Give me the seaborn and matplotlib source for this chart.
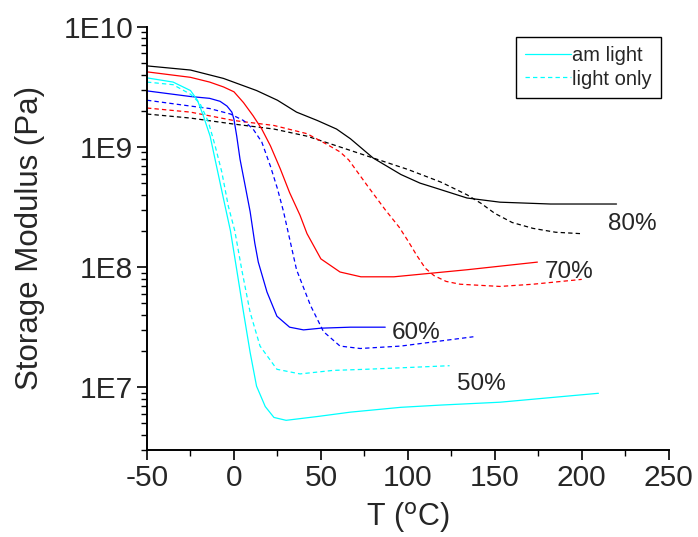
import numpy as np
import pandas as pd
import matplotlib
matplotlib.use("Agg")
import matplotlib.pyplot as plt
from matplotlib.ticker import FixedLocator, MultipleLocator, LogLocator, FuncFormatter, NullFormatter
from matplotlib.lines import Line2D
import seaborn as sns

# Storage modulus (Pa) vs temperature (C)
# 80 %
t80_am = [-50, -25, -6, 13, 25, 36, 48, 59, 67, 80, 96, 107, 115, 134, 153, 182, 220]
e80_am = [4.73e9, 4.37e9, 3.72e9, 2.95e9, 2.45e9, 1.95e9, 1.66e9, 1.41e9, 1.17e9, 8.1e8,
          5.9e8, 5.0e8, 4.6e8, 3.76e8, 3.47e8, 3.35e8, 3.35e8]
t80_lo = [-50, -25, 0, 23, 42, 61, 80, 100, 119, 134, 142, 150, 160, 172, 185, 199]
e80_lo = [1.88e9, 1.74e9, 1.55e9, 1.41e9, 1.23e9, 1.0e9, 8.1e8, 6.5e8, 5.1e8, 4.0e8, 3.4e8,
          2.8e8, 2.35e8, 2.1e8, 1.95e8, 1.9e8]
# 70 %
t70_am = [-50, -25, -14, -6, 0, 5.5, 11, 16, 21, 26.6, 32, 38, 42, 50, 61, 73, 92, 134, 174.5]
e70_am = [4.22e9, 3.8e9, 3.47e9, 3.16e9, 2.88e9, 2.34e9, 1.82e9, 1.41e9, 1.02e9, 6.6e8,
          4.17e8, 2.7e8, 1.9e8, 1.17e8, 9.1e7, 8.3e7, 8.3e7, 9.5e7, 1.1e8]
t70_lo = [-50, -25, 0, 23, 42, 53, 61, 66, 77, 87, 95, 100, 105, 110, 115, 122, 130, 153,
          172, 200]
e70_lo = [2.11e9, 1.95e9, 1.66e9, 1.51e9, 1.29e9, 1.06e9, 9.1e8, 7.8e8, 4.7e8, 3.0e8,
          2.15e8, 1.66e8, 1.26e8, 9.8e7, 8.5e7, 7.6e7, 7.2e7, 6.9e7, 7.2e7, 7.9e7]
# 60 %
t60_am = [-50, -25, -14, -8, -4, -1.2, 0, 1.6, 3.5, 6.4, 9.3, 12, 14, 19, 24.7, 32, 40, 50,
          67, 87]
e60_am = [2.93e9, 2.63e9, 2.54e9, 2.4e9, 2.19e9, 1.95e9, 1.7e9, 1.23e9, 7.9e8, 4.8e8, 2.9e8,
          1.58e8, 1.1e8, 6.2e7, 3.9e7, 3.16e7, 3.0e7, 3.1e7, 3.16e7, 3.16e7]
t60_lo = [-50, -25, -14, -2, 5.5, 11, 16, 21, 25, 28.5, 31, 36, 44, 51.5, 61, 72.6, 96, 137.7]
e60_lo = [2.45e9, 2.19e9, 2.09e9, 1.88e9, 1.66e9, 1.41e9, 1.1e9, 6.9e8, 4.5e8, 2.9e8, 2.0e8,
          9.5e7, 4.8e7, 2.9e7, 2.2e7, 2.1e7, 2.2e7, 2.63e7]
# 50 %
t50_am = [-50, -35, -25, -21, -17.6, -13.7, -10, -6, -2, 1.6, 5.5, 9.3, 13, 18, 23, 30, 48,
          67, 96, 119, 153, 209.6]
e50_am = [3.76e9, 3.47e9, 2.95e9, 2.45e9, 1.82e9, 1.23e9, 6.9e8, 3.7e8, 2.0e8, 9.5e7, 4.2e7,
          1.95e7, 1.02e7, 6.9e6, 5.6e6, 5.3e6, 5.7e6, 6.2e6, 6.8e6, 7.1e6, 7.5e6, 8.9e6]
t50_lo = [-50, -35, -25, -19.5, -14.7, -10.8, -7, -3.2, 0.5, 4.5, 9.3, 15, 24.7, 38, 57, 76,
          96, 124]
e50_lo = [3.47e9, 3.3e9, 2.75e9, 2.3e9, 1.62e9, 1.02e9, 6.2e8, 3.2e8, 2.0e8, 9.5e7, 4.2e7,
          2.2e7, 1.41e7, 1.29e7, 1.38e7, 1.41e7, 1.45e7, 1.51e7]

labels = ["80%", "70%", "60%", "50%"]
label_t = [229, 193, 105, 142]
label_e = [2.3e8, 9.1e7, 2.8e7, 1.07e7]
colors = ["black", "red", "blue", "cyan"]

series = [
    (t80_am, e80_am, t80_lo, e80_lo),
    (t70_am, e70_am, t70_lo, e70_lo),
    (t60_am, e60_am, t60_lo, e60_lo),
    (t50_am, e50_am, t50_lo, e50_lo),
]

sns.set_style("ticks")
plt.rcParams['font.family'] = ['Liberation Sans', 'DejaVu Sans']
plt.rcParams['axes.unicode_minus'] = False

fig = plt.figure(figsize=(6.98, 5.37), dpi=100)
ax = fig.add_axes([0.2106, 0.162, 0.7474, 0.788])

dash = (0, (3.5, 2.5))
for (ta, ea, tl, el), c in zip(series, colors):
    sns.lineplot(x=ta, y=ea, ax=ax, color=c, lw=0.9, sort=False, estimator=None)
    sns.lineplot(x=tl, y=el, ax=ax, color=c, lw=0.9, sort=False, estimator=None,
                 linestyle=dash)

for lab, t, e in zip(labels, label_t, label_e):
    ax.text(t, e, lab, fontsize=17.5, ha="center", va="center")

ax.set_yscale("log")
ax.set_xlim(-50, 250)
ax.set_ylim(3e6, 1e10)
ax.xaxis.set_major_locator(MultipleLocator(50))
ax.xaxis.set_minor_locator(MultipleLocator(25))
ax.yaxis.set_major_locator(FixedLocator([1e7, 1e8, 1e9, 1e10]))
ax.yaxis.set_minor_locator(LogLocator(base=10, subs=np.arange(2, 10)))
ax.yaxis.set_minor_formatter(NullFormatter())
ax.yaxis.set_major_formatter(FuncFormatter(lambda v, p: "1E%d" % round(np.log10(v))))

ax.tick_params(which="major", direction="out", length=7, width=1.2, labelsize=21.5,
               color="black", pad=3)
ax.tick_params(which="minor", direction="out", length=4, width=1.0, color="black")
for s in ["left", "bottom"]:
    ax.spines[s].set_linewidth(1.4)
    ax.spines[s].set_color("black")
sns.despine(ax=ax)

ax.set_xlabel("T ($^{\\mathrm{o}}$C)", fontsize=22, labelpad=6)
ax.set_ylabel("Storage Modulus (Pa)", fontsize=22.5, labelpad=13)

handles = [Line2D([], [], color="cyan", lw=0.9),
           Line2D([], [], color="cyan", lw=0.9, linestyle=dash)]
leg = ax.legend(handles, ["am light", "light only"], loc="upper left",
                bbox_to_anchor=(0.707, 0.975), fontsize=14.5, frameon=True, fancybox=False,
                handlelength=2.3, handletextpad=0.05, borderpad=0.45, labelspacing=0.2,
                borderaxespad=0.0)
leg.get_frame().set_edgecolor("black")
leg.get_frame().set_linewidth(1.0)
leg.get_frame().set_alpha(1)

fig.savefig("out.png", dpi=100)
